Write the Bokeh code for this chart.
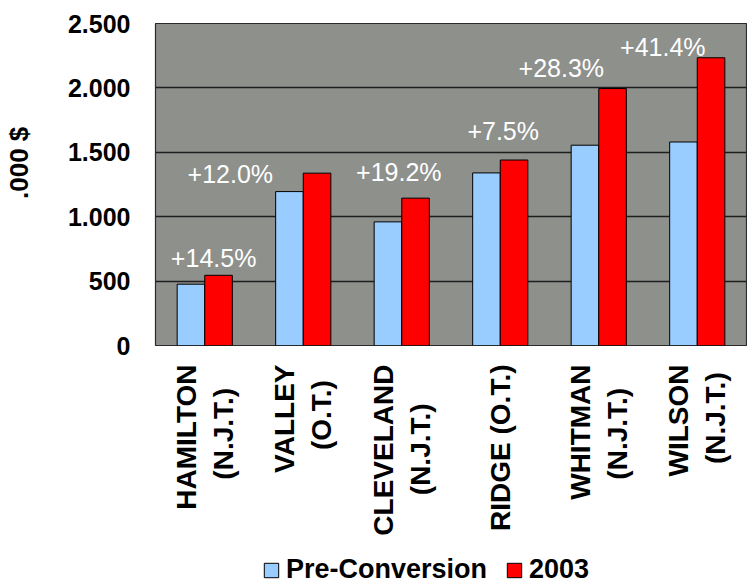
import numpy as np
from bokeh.plotting import figure
from bokeh.layouts import column
from bokeh.models import (FactorRange, Range1d, FixedTicker, Legend, LegendItem,
                          ColumnDataSource)
from bokeh.transform import dodge
from bokeh.core.properties import value
from bokeh.embed import file_html
from bokeh.resources import INLINE

# --- data -------------------------------------------------------------
schools = ["HAMILTON\n(N.J.T.)", "VALLEY\n(O.T.)", "CLEVELAND\n(N.J.T.)",
           "RIDGE (O.T.)", "WHITMAN\n(N.J.T.)", "WILSON\n(N.J.T.)"]
pre_conversion = [476, 1195, 960, 1340, 1555, 1580]
year_2003 = [545, 1338, 1144, 1440, 1995, 2234]
change_labels = ["+14.5%", "+12.0%", "+19.2%", "+7.5%", "+28.3%", "+41.4%"]
y_ticks = [0, 500, 1000, 1500, 2000, 2500]
y_tick_labels = ["0", "500", "1.000", "1.500", "2.000", "2.500"]
y_title = ".000 $"

# --- label placement (offset from the category centre, lift above the 2003 bar)
label_dx = [0.09, -0.74, -0.03, 0.03, -0.38, -0.35]
label_lift = [136, -10, 203, 227, 162, 83]
# non-breaking spaces that centre the shorter second line of each name
name_pad = [3, 2, 5, 0, 3, 1]
NBSP = "\u00a0"

FONT = "Liberation Sans"
BG = "#8E908C"
BLUE = "#99CCFF"
RED = "#FF0000"


def padded(name, n):
    if "\n" not in name or n == 0:
        return name
    first, second = name.split("\n")
    return first + "\n" + second + NBSP * n


factors = [padded(s, n) for s, n in zip(schools, name_pad)]
src = ColumnDataSource(dict(school=factors, pre=pre_conversion, y2003=year_2003))

p = figure(width=747, height=545, x_range=FactorRange(*factors),
           y_range=Range1d(0, 2500), output_backend="svg", toolbar_location=None,
           min_border_left=153, min_border_right=1, min_border_top=23,
           min_border_bottom=200)

p.background_fill_color = BG
p.border_fill_color = "white"
p.outline_line_color = "#2A2A2A"
p.outline_line_width = 1.2

# bars
r_pre = p.vbar(x=dodge("school", -0.14, range=p.x_range), top="pre", width=0.28,
               source=src, fill_color=BLUE, line_color="black", line_width=1)
r_new = p.vbar(x=dodge("school", 0.14, range=p.x_range), top="y2003", width=0.28,
               source=src, fill_color=RED, line_color="black", line_width=1)

# grid
p.xgrid.visible = False
p.ygrid.ticker = FixedTicker(ticks=y_ticks)
p.ygrid.grid_line_color = "#1E1E1E"
p.ygrid.grid_line_width = 1.3

# y axis; leading spaces lift the rotated title above the frame centre
yax = p.yaxis[0]
yax.ticker = FixedTicker(ticks=y_ticks)
yax.major_label_overrides = dict(zip(y_ticks, y_tick_labels))
yax.axis_line_color = None
yax.major_tick_line_color = None
yax.minor_tick_line_color = None
yax.major_tick_out = 0
yax.major_label_standoff = 25
yax.major_label_text_font = FONT
yax.major_label_text_font_style = "bold"
yax.major_label_text_font_size = "25px"
yax.major_label_text_color = "black"
yax.axis_label = NBSP * 6 + y_title
yax.axis_label_standoff = 31
yax.axis_label_text_font = FONT
yax.axis_label_text_font_style = "bold"
yax.axis_label_text_font_size = "26px"
yax.axis_label_text_color = "black"

# x axis with the school names
xax = p.xaxis[0]
xax.axis_line_color = None
xax.major_tick_line_color = None
xax.minor_tick_line_color = None
xax.major_tick_out = 0
xax.major_label_standoff = 19
xax.major_label_orientation = np.pi / 2
xax.major_label_text_font = FONT
xax.major_label_text_font_style = "bold"
xax.major_label_text_font_size = "28px"
xax.major_label_text_color = "black"

# percentage change labels
lab_x = [i + 0.5 + dx for i, dx in enumerate(label_dx)]
lab_y = [v + lift for v, lift in zip(year_2003, label_lift)]
p.text(x=lab_x, y=lab_y, text=change_labels, text_color="white",
       text_font=value(FONT), text_font_size="25px",
       text_align="center", text_baseline="middle")

# legend strip underneath (its swatch renderers sit outside the visible range)
key = figure(width=747, height=40, x_range=Range1d(0, 1), y_range=Range1d(0, 1),
             output_backend="svg", toolbar_location=None,
             x_axis_location=None, y_axis_location=None,
             min_border=0, outline_line_color=None)
key.xgrid.visible = False
key.ygrid.visible = False
k_pre = key.vbar(x=[-5], top=[-5], bottom=[-6], width=0.1,
                 fill_color=BLUE, line_color="black")
k_new = key.vbar(x=[-5], top=[-5], bottom=[-6], width=0.1,
                 fill_color=RED, line_color="black")
legend = Legend(items=[LegendItem(label="Pre-Conversion", renderers=[k_pre]),
                       LegendItem(label="2003", renderers=[k_new])],
                orientation="horizontal", location=(107, 0))
legend.background_fill_alpha = 0
legend.border_line_alpha = 0
legend.padding = 0
legend.margin = 0
legend.spacing = 18
legend.glyph_width = 18
legend.glyph_height = 18
legend.label_standoff = 6
legend.label_text_font = FONT
legend.label_text_font_style = "bold"
legend.label_text_font_size = "27px"
legend.label_text_color = "black"
key.add_layout(legend)

layout = column(p, key, spacing=0)
open("out.html", "w").write(file_html(layout, INLINE))
